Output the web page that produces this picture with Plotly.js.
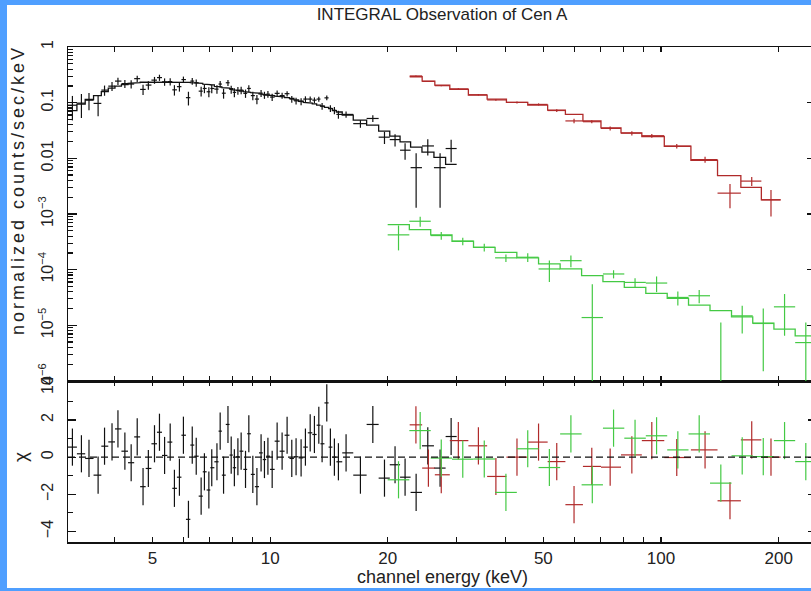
<!DOCTYPE html>
<html><head><meta charset="utf-8">
<script src="https://cdn.plot.ly/plotly-3.0.1.min.js"></script>
<style>
html,body{margin:0;padding:0;background:#4f9fff;overflow:hidden;width:811px;height:591px;}
#chart{position:absolute;left:7px;top:5px;width:809px;height:583px;background:#fff;}
.main-svg{overflow:visible !important;}
</style></head><body><div id="chart"></div>
<script>
// ---- JEM-X (black) ----
const blackE=[3.12,3.29,3.44,3.63,3.77,3.94,4.08,4.25,4.41,4.57,4.73,4.88,5.06,5.21,5.37,5.55,5.69,5.86,6.00,6.18,6.32,6.47,6.66,6.79,6.97,7.09,7.31,7.45,7.60,7.80,7.95,8.10,8.27,8.43,8.65,8.82,9.03,9.25,9.48,9.67,9.87,10.12,10.42,10.73,11.05,11.36,11.65,12.00,12.31,12.66,12.98,13.32,13.58,13.96,14.26,14.60,14.95,15.64,17.02,18.31,19.61,20.87,22.14,23.63,25.31,27.21,29.04];
const blackData=[0.090,0.098,0.111,0.097,0.168,0.198,0.244,0.220,0.216,0.270,0.173,0.207,0.254,0.282,0.237,0.239,0.170,0.194,0.260,0.123,0.244,0.228,0.161,0.180,0.157,0.180,0.175,0.216,0.148,0.228,0.173,0.153,0.165,0.168,0.147,0.180,0.134,0.116,0.148,0.137,0.142,0.126,0.147,0.134,0.145,0.116,0.108,0.105,0.116,0.116,0.111,0.116,0.0865,0.122,0.079,0.073,0.0615,0.0615,0.042,0.052,0.024,0.0217,0.0140,0.0068,0.0167,0.0068,0.0150];
const blackErr=[0.042,0.045,0.038,0.040,0.035,0.036,0.036,0.036,0.036,0.036,0.036,0.036,0.036,0.036,0.036,0.036,0.036,0.036,0.034,0.034,0.034,0.034,0.032,0.032,0.032,0.032,0.030,0.030,0.030,0.028,0.028,0.028,0.026,0.026,0.025,0.025,0.023,0.022,0.021,0.020,0.020,0.019,0.018,0.017,0.016,0.016,0.015,0.015,0.014,0.013,0.013,0.012,0.012,0.012,0.011,0.011,0.010,0.008,0.0066,0.0072,0.0059,0.0054,0.0046,0.0055,0.0054,0.0055,0.0065];
const blackModel=[0.072,0.094,0.114,0.134,0.158,0.182,0.198,0.211,0.222,0.229,0.234,0.237,0.237,0.237,0.237,0.237,0.237,0.237,0.236,0.232,0.228,0.225,0.222,0.215,0.212,0.208,0.196,0.192,0.186,0.182,0.178,0.170,0.166,0.162,0.157,0.153,0.152,0.148,0.144,0.140,0.137,0.134,0.131,0.127,0.123,0.119,0.112,0.106,0.101,0.098,0.095,0.090,0.087,0.082,0.078,0.072,0.068,0.0595,0.0484,0.0394,0.0307,0.025,0.0198,0.0159,0.0129,0.0104,0.0078];
const blackChi=[0.54,0.18,-0.07,-0.97,0.59,0.82,1.52,0.32,-0.30,1.09,-1.59,-0.61,0.72,1.34,0.09,0.81,-1.68,-1.08,1.18,-3.35,0.65,0.05,-2.10,-0.79,-1.77,-0.57,-0.25,1.40,-0.97,1.76,0.11,-0.57,0.02,0.32,-0.66,1.26,-0.93,-1.59,0.23,-0.13,0.05,-0.66,0.86,0.32,1.18,-0.07,0.02,-0.04,0.54,1.31,1.22,1.72,0.72,2.92,0.54,0.00,-0.25,0.23,-0.97,1.76,-1.13,-0.41,-1.08,-1.90,0.61,-0.59,1.11];
// ---- ISGRI (red) ----
const redE=[23.6,25.4,27.4,30.3,34.1,37.8,42.8,48.6,54.1,59.9,66.5,74.1,84.2,94.7,109.7,129.6,150.1,170.6,191.1];
const redData=[0.302,0.241,0.202,0.177,0.139,0.112,0.101,0.093,0.0723,0.047,0.0455,0.0345,0.0283,0.0255,0.0165,0.0095,0.00237,0.0039,0.0018];
const redErr=[0.006,0.005,0.005,0.004,0.004,0.004,0.004,0.004,0.004,0.0045,0.003,0.003,0.0025,0.002,0.0015,0.0012,0.0011,0.0007,0.0009];
const redModel=[0.292,0.244,0.207,0.173,0.137,0.116,0.101,0.090,0.0733,0.0614,0.047,0.0352,0.0287,0.0246,0.0165,0.0092,0.0049,0.0030,0.0018];
const redChi=[1.74,-0.59,-0.95,0.89,0.61,-1.04,0.00,0.81,-0.24,-2.56,-0.50,-0.54,0.12,0.89,-0.02,0.39,-2.35,0.93,0.00];
// ---- SPI (green) ----
const greenE=[21.3,24.2,27.4,31.1,35.3,40.1,45.6,51.8,58.8,66.7,75.6,85.8,97.4,110.4,125.2,142.2,161.3,182.6,207.0,234.6];
const greenData=[4.22e-4,7.41e-4,4.10e-4,3.24e-4,2.52e-4,1.63e-4,1.67e-4,1.03e-4,1.45e-4,1.38e-5,8.37e-5,5.9e-5,5.75e-5,3.17e-5,3.4e-5,3e-7,1.48e-5,1.08e-5,2.15e-5,4.9e-6];
const greenErr=[2.0e-4,1.5e-4,6.5e-5,5.0e-5,4.0e-5,2.5e-5,3.0e-5,4.3e-5,3.4e-5,4.1e-5,1.4e-5,1.1e-5,1.8e-5,9e-6,9e-6,1.09e-5,7.7e-6,9.3e-6,1.5e-5,6.3e-6];
const greenModel=[6.47e-4,5.26e-4,4.22e-4,3.24e-4,2.52e-4,2.05e-4,1.63e-4,1.27e-4,1.03e-4,7.80e-5,6.08e-5,4.80e-5,3.74e-5,3.04e-5,2.31e-5,1.83e-5,1.42e-5,1.10e-5,8.55e-6,6.47e-6];
const greenChi=[-1.22,1.43,-0.05,-0.11,-0.10,-1.90,0.45,-0.56,1.25,-1.49,1.56,1.02,1.15,0.39,1.25,-1.40,0.07,0.03,0.89,-0.24];

// ---- axis ticks ----
const xTickVals=[5,10,20,50,100,200];
const xTickText=['5','10','20','50','100','200'];
const xMinorVals=[3,4,6,7,8,9,30,40,60,70,80,90];
const xMajorVals=[10,100];
const yTickVals=[1e-6,1e-5,1e-4,1e-3,0.01,0.1,1];
const yTickText=['10<sup>−6</sup>','10<sup>−5</sup>','10<sup>−4</sup>','10<sup>−3</sup>','0.01','0.1','1'];
const chiTickVals=[-4,-2,0,2,4];
const chiTickText=['−4','−2','0','2','4'];
const chiMinorVals=[-3,-1,1,3];

const COL={black:'#111111',red:'#b02a2a',green:'#44c944'};
const FONT='Liberation Sans, Arial, sans-serif';

function edges(c){const n=c.length,e=new Array(n+1);for(let i=1;i<n;i++)e[i]=Math.sqrt(c[i-1]*c[i]);e[0]=c[0]*c[0]/e[1];e[n]=c[n-1]*c[n-1]/e[n-1];return e;}
function stepXY(c,m){const e=edges(c),x=[],y=[];for(let i=0;i<c.length;i++){x.push(e[i],e[i+1]);y.push(m[i],m[i]);}return {x,y};}
function xerr(c,col){const e=edges(c);return {type:'data',symmetric:false,array:c.map((v,i)=>e[i+1]-v),arrayminus:c.map((v,i)=>v-e[i]),width:0,thickness:1.2,color:col};}

const traces=[];
function addSet(E,data,err,model,chi,col){
  traces.push({x:E,y:data,xaxis:'x2',yaxis:'y',type:'scatter',mode:'markers',marker:{size:0.1,color:col,opacity:0},
    error_x:xerr(E,col),error_y:{type:'data',array:err,width:0,thickness:1.2,color:col},hoverinfo:'skip',showlegend:false});
  const s=stepXY(E,model);
  traces.push({x:s.x,y:s.y,xaxis:'x2',yaxis:'y',type:'scatter',mode:'lines',line:{color:col,width:1.3},hoverinfo:'skip',showlegend:false});
  traces.push({x:E,y:chi,xaxis:'x',yaxis:'y2',type:'scatter',mode:'markers',marker:{size:0.1,color:col,opacity:0},
    error_x:xerr(E,col),error_y:{type:'constant',value:1,width:0,thickness:1.2,color:col},hoverinfo:'skip',showlegend:false});
}
addSet(blackE,blackData,blackErr,blackModel,blackChi,COL.black);
addSet(redE,redData,redErr,redModel,redChi,COL.red);
addSet(greenE,greenData,greenErr,greenModel,greenChi,COL.green);

const xr=[Math.log10(3.04),2.3964];
const xtf={family:FONT,size:17,color:'#222'};
const ytf={family:FONT,size:16,color:'#222'};
const baseX={type:'log',range:xr,showgrid:false,zeroline:false,showline:true,linecolor:'#111',linewidth:1.5,
  mirror:'ticks',ticks:'inside',ticklen:5,tickwidth:1.2,tickcolor:'#111',tickmode:'array',tickvals:xTickVals,ticktext:xTickText,
  minor:{tickmode:'array',tickvals:xMinorVals,ticks:'inside',ticklen:5,tickwidth:1.2,tickcolor:'#111'},tickfont:xtf};
const split=161/495;
const layout={
  width:809,height:583,margin:{l:61,r:0,t:42,b:46},paper_bgcolor:'#fff',plot_bgcolor:'#fff',showlegend:false,
  font:{family:FONT,color:'#222'},
  title:{text:'INTEGRAL Observation of Cen A',font:{family:FONT,size:17,color:'#222'},x:0.5,xref:'paper',xanchor:'center',y:1-9/583,yref:'container',yanchor:'middle'},
  xaxis:Object.assign({},baseX,{anchor:'y2',domain:[0,1]}),
  xaxis2:Object.assign({},baseX,{anchor:'y',domain:[0,1],matches:'x',showticklabels:false}),
  xaxis3:{type:'log',range:xr,overlaying:'x',anchor:'y2',showgrid:false,zeroline:false,showline:false,mirror:'ticks',ticks:'inside',ticklen:9,tickwidth:1.2,tickcolor:'#111',tickmode:'array',tickvals:xMajorVals,showticklabels:false},
  xaxis4:{type:'log',range:xr,overlaying:'x2',anchor:'y',showgrid:false,zeroline:false,showline:false,mirror:'ticks',ticks:'inside',ticklen:9,tickwidth:1.2,tickcolor:'#111',tickmode:'array',tickvals:xMajorVals,showticklabels:false},
  yaxis:{type:'log',range:[-6,0],domain:[split,1],anchor:'x2',showgrid:false,zeroline:false,showline:true,linecolor:'#111',linewidth:1.5,
    mirror:'ticks',ticks:'inside',ticklen:9,tickwidth:1.2,tickcolor:'#111',tickmode:'array',tickvals:yTickVals,ticktext:yTickText,tickangle:-90,tickfont:ytf,ticklabelstandoff:7,
    minor:{tickmode:'array',tickvals:(function(){const v=[];for(let d=-6;d<0;d++)for(let k=2;k<=9;k++)v.push(k*Math.pow(10,d));return v;})(),ticks:'inside',ticklen:4.5,tickwidth:1.2,tickcolor:'#111'}},
  yaxis2:{range:[-4.57,4.10],domain:[0,split],anchor:'x',showgrid:false,zeroline:false,showline:true,linecolor:'#111',linewidth:1.5,
    mirror:'ticks',ticks:'inside',ticklen:8,tickwidth:1.2,tickcolor:'#111',tickmode:'array',tickvals:chiTickVals,ticktext:chiTickText,tickangle:-90,tickfont:ytf,ticklabelstandoff:7,
    minor:{tickmode:'array',tickvals:chiMinorVals,ticks:'inside',ticklen:4.5,tickwidth:1.2,tickcolor:'#111'}},
  shapes:[{type:'line',xref:'paper',x0:0,x1:1,yref:'y2',y0:0,y1:0,line:{color:'#111',width:1.2,dash:'7px,4px'}}],
  annotations:[
    {text:'channel energy (keV)',xref:'paper',yref:'paper',x:0.5,y:(537-572)/495,xanchor:'center',yanchor:'middle',showarrow:false,font:{family:FONT,size:18,color:'#222'}},
    {text:'<span style="letter-spacing:3px">normalized counts/sec/keV</span>',xref:'paper',yref:'paper',x:(11-61)/748,y:(537-185)/495,xanchor:'center',yanchor:'middle',textangle:-90,showarrow:false,font:{family:FONT,size:18,color:'#222'}},
    {text:'χ',xref:'paper',yref:'paper',x:(13-61)/748,y:(537-452)/495,xanchor:'center',yanchor:'middle',textangle:-90,showarrow:false,font:{family:FONT,size:19,color:'#222'}}
  ]
};
Plotly.newPlot('chart',traces,layout,{staticPlot:true,displayModeBar:false});
</script></body></html>
